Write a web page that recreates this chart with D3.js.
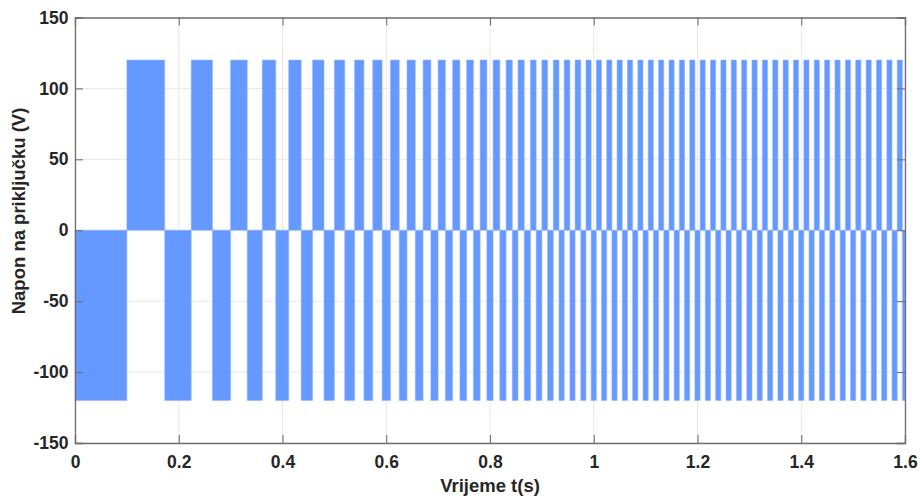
<!DOCTYPE html>
<html>
<head>
<meta charset="utf-8">
<script src="https://cdn.jsdelivr.net/npm/d3@7"></script>
<style>
  body { margin: 0; background: #fff; }
  svg { display: block; }
  text { font-family: "Liberation Sans", Arial, sans-serif; font-weight: bold; fill: #262626; }
</style>
</head>
<body>
<svg id="chart" width="921" height="497"></svg>
<script>
// ---- data ----
const startLevel = -120;          // level from t = 0 until first switch
const levels = [-120, 120];       // the two voltage levels (V)
// switching instants (s): the signal alternates level at each one
const switchTimes = [
  0.100, 0.173, 0.224, 0.265, 0.300, 0.332, 0.361, 0.387, 0.412, 0.436,
  0.458, 0.480, 0.500, 0.520, 0.539, 0.557, 0.574, 0.592, 0.608, 0.625,
  0.640, 0.656, 0.671, 0.686, 0.700, 0.714, 0.728, 0.742, 0.755, 0.768,
  0.781, 0.794, 0.806, 0.819, 0.831, 0.843, 0.854, 0.866, 0.878, 0.889,
  0.900, 0.911, 0.922, 0.933, 0.943, 0.954, 0.964, 0.975, 0.985, 0.995,
  1.005, 1.015, 1.025, 1.035, 1.045, 1.055, 1.065, 1.075, 1.085, 1.095,
  1.105, 1.115, 1.125, 1.135, 1.145, 1.155, 1.165, 1.175, 1.185, 1.195,
  1.205, 1.215, 1.225, 1.235, 1.245, 1.255, 1.265, 1.275, 1.285, 1.295,
  1.305, 1.315, 1.325, 1.335, 1.345, 1.355, 1.365, 1.375, 1.385, 1.395,
  1.405, 1.415, 1.425, 1.435, 1.445, 1.455, 1.465, 1.475, 1.485, 1.495,
  1.505, 1.515, 1.525, 1.535, 1.545, 1.555, 1.565, 1.575, 1.585, 1.595
];
const xTicks = [0, 0.2, 0.4, 0.6, 0.8, 1, 1.2, 1.4, 1.6];
const yTicks = [-150, -100, -50, 0, 50, 100, 150];
const xDomain = [0, 1.6];
const yDomain = [-150, 150];
const xLabel = "Vrijeme t(s)";
const yLabel = "Napon na priključku (V)";

// ---- layout ----
const svg = d3.select("#chart");
const m = { left: 75, right: 16, top: 17.5, bottom: 54 };
const W = 921, H = 497;
const x = d3.scaleLinear().domain(xDomain).range([m.left, W - m.right]);
const y = d3.scaleLinear().domain(yDomain).range([H - m.bottom, m.top]);

// build step series from the switching list
const pts = [];
let lvl = startLevel;
pts.push({ t: xDomain[0], v: lvl });
switchTimes.forEach(t => {
  lvl = (lvl === levels[0]) ? levels[1] : levels[0];
  pts.push({ t, v: lvl });
});
pts.push({ t: xDomain[1], v: lvl });

// grid
const g = svg.append("g");
g.selectAll("line.gx").data(xTicks).join("line")
  .attr("x1", d => x(d)).attr("x2", d => x(d))
  .attr("y1", y(yDomain[0])).attr("y2", y(yDomain[1]))
  .attr("stroke", "#e8e8e8").attr("stroke-width", 1);
g.selectAll("line.gy").data(yTicks).join("line")
  .attr("y1", d => y(d)).attr("y2", d => y(d))
  .attr("x1", x(xDomain[0])).attr("x2", x(xDomain[1]))
  .attr("stroke", "#e8e8e8").attr("stroke-width", 1);

// signal area
const area = d3.area()
  .x(d => x(d.t))
  .y0(y(0))
  .y1(d => y(d.v))
  .curve(d3.curveStepAfter);
svg.append("path")
  .datum(pts)
  .attr("d", area)
  .attr("fill", "#6699ff")
  .attr("stroke", "#8fb3ff")
  .attr("stroke-width", 0.6);

// axes
const axisColor = "#6f6f6f";
const tickLen = 8;
const plainFmt = d => String(d);   // hyphen-minus like the reference
const xAxisB = d3.axisBottom(x).tickValues(xTicks).tickSize(-tickLen).tickPadding(13)
  .tickFormat(plainFmt);
const xAxisT = d3.axisTop(x).tickValues(xTicks).tickSize(-tickLen).tickFormat("");
const yAxisL = d3.axisLeft(y).tickValues(yTicks).tickSize(-tickLen).tickPadding(6.5)
  .tickFormat(plainFmt);
const yAxisR = d3.axisRight(y).tickValues(yTicks).tickSize(-tickLen).tickFormat("");

function style(sel) {
  sel.select(".domain").attr("stroke", axisColor).attr("stroke-width", 1.3);
  sel.selectAll(".tick line").attr("stroke", axisColor).attr("stroke-width", 1.1);
  sel.selectAll(".tick text").attr("fill", "#262626")
    .style("font-size", "17.5px").style("font-weight", "bold")
    .style("font-family", "'Liberation Sans', Arial, sans-serif");
}
svg.append("g").attr("transform", `translate(0,${y(yDomain[0])})`).call(xAxisB).call(style);
svg.append("g").attr("transform", `translate(0,${y(yDomain[1])})`).call(xAxisT).call(style);
svg.append("g").attr("transform", `translate(${x(xDomain[0])},0)`).call(yAxisL).call(style);
svg.append("g").attr("transform", `translate(${x(xDomain[1])},0)`).call(yAxisR).call(style);

// axis labels
svg.append("text")
  .attr("x", (x(xDomain[0]) + x(xDomain[1])) / 2)
  .attr("y", 492)
  .attr("text-anchor", "middle")
  .style("font-size", "18.5px")
  .text(xLabel);
svg.append("text")
  .attr("transform", `translate(25,211) rotate(-90)`)
  .attr("text-anchor", "middle")
  .style("font-size", "18.5px")
  .text(yLabel);
</script>
</body>
</html>
